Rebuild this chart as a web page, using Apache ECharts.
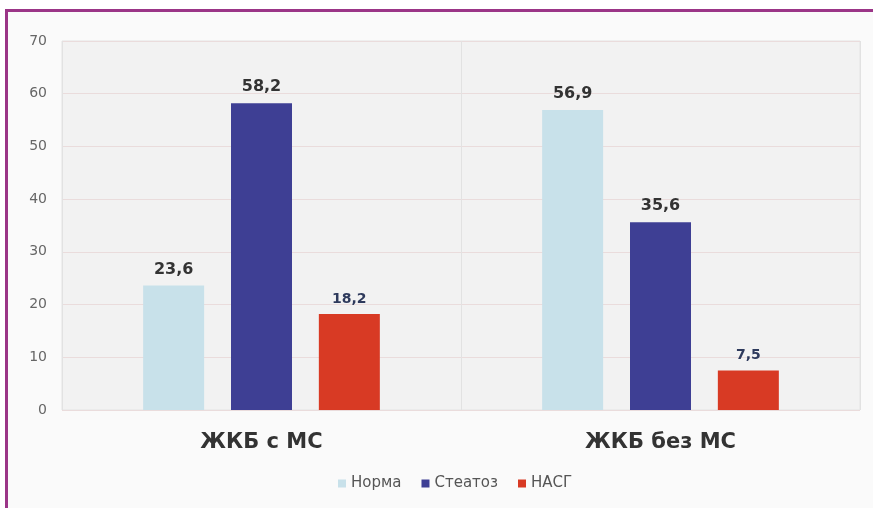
<!DOCTYPE html>
<html>
<head>
<meta charset="utf-8">
<script src="https://cdn.jsdelivr.net/npm/echarts@6/dist/echarts.min.js"></script>
<style>
html,body{margin:0;padding:0;background:#ffffff;}
#c{width:873px;height:508px;}
</style>
</head>
<body>
<div id="c"></div>
<script>
const categories = ['ЖКБ с МС', 'ЖКБ без МС'];
const seriesNames = ['Норма', 'Стеатоз', 'НАСГ'];
const normaValues = [23.6, 56.9];
const steatozValues = [58.2, 35.6];
const nasgValues = [18.2, 7.5];
const yTicks = [0, 10, 20, 30, 40, 50, 60, 70];

const colors = ['#c8e1ea', '#3e3f94', '#d83a24'];
const labelColors = ['#333333', '#333333', '#2e3a5c'];
const labelSizes = [16, 16, 14];
const data = [normaValues, steatozValues, nasgValues];
const FONT = 'DejaVu Sans, Verdana, sans-serif';

const chart = echarts.init(document.getElementById('c'), null, {renderer: 'canvas'});
const fmt = p => String(p.value).replace('.', ',');

chart.setOption({
  animation: false,
  backgroundColor: 'transparent',
  graphic: [
    {type: 'rect', z: -10, silent: true, shape: {x: 7, y: 11, width: 866, height: 497}, style: {fill: '#fafafa'}},
    {type: 'rect', z: -5, silent: true, shape: {x: 6, y: 9, width: 867, height: 3}, style: {fill: '#9b3587'}},
    {type: 'rect', z: -5, silent: true, shape: {x: 5, y: 9, width: 3, height: 499}, style: {fill: '#9b3587'}}
  ],
  grid: {
    left: 62, right: 13, top: 41, bottom: 98,
    show: true, backgroundColor: '#f2f2f2', borderColor: '#e4e4e4', borderWidth: 1
  },
  legend: {
    data: seriesNames,
    top: 471, left: 333,
    itemWidth: 8, itemHeight: 8, itemGap: 20,
    icon: 'rect',
    textStyle: {color: '#555555', fontSize: 15, fontFamily: FONT}
  },
  xAxis: {
    type: 'category',
    data: categories,
    axisLine: {show: false},
    axisTick: {show: false},
    splitLine: {show: true, lineStyle: {color: '#e2e2e2', width: 1}},
    axisLabel: {margin: 22, color: '#333333', fontSize: 21, fontWeight: 'bold', fontFamily: FONT}
  },
  yAxis: {
    type: 'value',
    min: yTicks[0], max: yTicks[yTicks.length - 1], interval: 10,
    axisLine: {show: false},
    axisTick: {show: false},
    splitLine: {lineStyle: {color: '#eadcdc', width: 1}},
    axisLabel: {margin: 15, color: '#666666', fontSize: 14, fontFamily: FONT}
  },
  series: seriesNames.map((name, i) => ({
    name: name,
    type: 'bar',
    data: data[i],
    barWidth: 61,
    barGap: '44%',
    itemStyle: {color: colors[i]},
    label: {
      show: true, position: 'top', distance: 8,
      formatter: fmt,
      color: labelColors[i], fontSize: labelSizes[i], fontWeight: 'bold',
      fontFamily: FONT
    }
  }))
});
</script>
</body>
</html>
